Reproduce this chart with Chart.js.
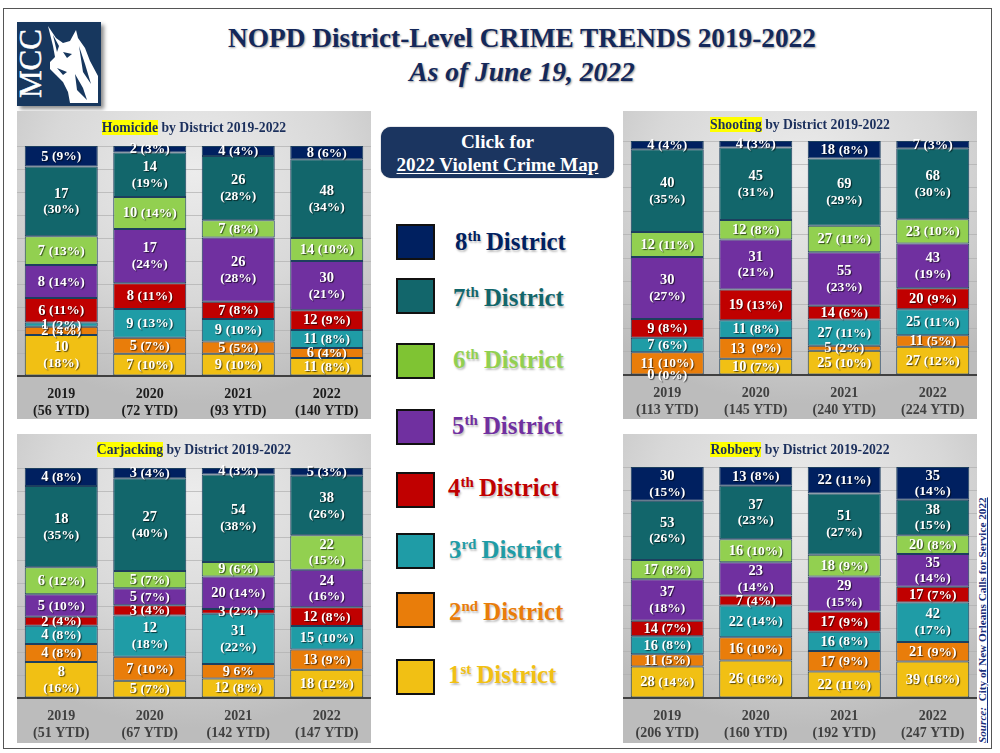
<!DOCTYPE html>
<html>
<head>
<meta charset="utf-8">
<script src="https://cdn.jsdelivr.net/npm/chart.js@4"></script>
<style>
  html, body { margin: 0; padding: 0; background: #fff; }
  body { position: relative; width: 1000px; height: 753px; overflow: hidden; font-family: "Liberation Serif", serif; }
  .abs { position: absolute; }
  #frame { left: 3px; top: 8px; width: 987px; height: 739px; border: 1.5px solid #555; }
  #logo { left: 17px; top: 22px; width: 84px; height: 84px; box-shadow: 3px 3px 4px rgba(0,0,0,.45); }
  #title, #subtitle { left: 0; width: 1044px; text-align: center; font-weight: bold; color: #14285a; white-space: nowrap; text-shadow: 1px 1px 2px rgba(0,0,0,.4); }
  #title { top: 23px; font-size: 27.3px; }
  #subtitle { top: 56px; font-size: 27.5px; font-style: italic; }
  .panel { background: radial-gradient(ellipse 75% 75% at 50% 20%, #ececec 0%, #d8d8d8 55%, #bcbcbc 100%); }
  .panel canvas { position: absolute; left: 0; top: 0; }
  .panel-title { position: absolute; left: 0; right: 0; text-align: center; font-weight: bold; font-size: 13.7px; color: #1b2f5c; white-space: nowrap; line-height: 16px; }
  .panel-title mark { background: #ffff00; color: #1b2f5c; }
  #button { left: 381px; top: 127px; width: 233px; height: 51px; border-radius: 10px; background: #1b3560; color: #fff; text-align: center; font-weight: bold; font-size: 19.2px; line-height: 23px; padding-top: 3px; box-sizing: border-box; box-shadow: 0 0 1px #0c1c38; }
  #button u { text-underline-offset: 2px; }
  .swatch { box-sizing: border-box; width: 39px; height: 36px; left: 396px; border: 2px solid #111; }
  .legend-label { font-weight: bold; font-size: 24.8px; line-height: 28px; white-space: nowrap; text-shadow: 1px 2px 2px rgba(0,0,0,.25); }
  .legend-label sup { font-size: 15px; line-height: 0; margin-right: -1px; }
  #source { left: 982px; top: 743px; transform-origin: 0 0; transform: rotate(-90deg) translateY(-50%); font-size: 11.2px; font-weight: bold; color: #1b2f7c; text-decoration: underline; white-space: pre; }
</style>
</head>
<body>
<div class="abs" id="frame"></div>
<svg class="abs" id="logo" viewBox="0 0 84 84">
  <rect width="84" height="84" fill="#17375e"/>
  <text transform="translate(24,76) rotate(-90)" fill="#fff" stroke="#fff" stroke-width="0.5" font-family="Liberation Serif" font-size="31">MCC</text>
  <path fill="#fff" d="M31 4 L39 16 L46 21 L53 19 L59 8 L61 16 L68 26 L73 39 L81 54 L81 81 L53 81 L51 70 L46 60 L39 53 L33 47 L33 40 L38 35 L36 24 Z"/>
  <path fill="#17375e" d="M36 13 L42 24 L40 30 Z M46 30 L55 32 L50 36 Z M62 24 L68 42 L74 62 L66 50 Z M58 52 L66 66 L70 78 L60 68 Z M40 46 L50 50 L46 53 Z"/>
</svg>
<div class="abs" id="title">NOPD District-Level CRIME TRENDS 2019-2022</div>
<div class="abs" id="subtitle">As of June 19, 2022</div>
<div class="abs" id="button">Click for<br><u>2022 Violent Crime Map</u></div>
<div class="abs" id="source"><i>Source:</i>  City of New Orleans Calls for Service 2022</div>

<script>
const years = ['2019', '2020', '2021', '2022'];
const districts = ['1st', '2nd', '3rd', '4th', '5th', '6th', '7th', '8th'];
const colors = ['#f1c014', '#e97d0a', '#1f9ca6', '#c00000', '#7030a0', '#92d050', '#12666b', '#002060'];
const swatchColors = ['#f1c014', '#e97d0a', '#1f9ca6', '#c00000', '#7030a0', '#7fc433', '#12666b', '#002060'];

// each row is one year, values run from 1st district up to 8th
const homicide = [
    [10, 2, 1, 6, 8, 7, 17, 5],
    [7, 5, 9, 8, 17, 10, 14, 2],
    [9, 5, 9, 7, 26, 7, 26, 4],
    [11, 6, 11, 12, 30, 14, 48, 8]
];
const shooting = [
    [0, 11, 7, 9, 30, 12, 40, 4],
    [10, 13, 11, 19, 31, 12, 45, 4],
    [25, 5, 27, 14, 55, 27, 69, 18],
    [27, 11, 25, 20, 43, 23, 68, 7]
];
const carjacking = [
    [8, 4, 4, 2, 5, 6, 18, 4],
    [5, 7, 12, 3, 5, 5, 27, 3],
    [12, 9, 31, 3, 20, 9, 54, 4],
    [18, 13, 15, 12, 24, 22, 38, 5]
];
const robbery = [
    [28, 11, 16, 14, 37, 17, 53, 30],
    [26, 16, 22, 7, 23, 16, 37, 13],
    [22, 17, 16, 17, 29, 18, 51, 22],
    [39, 21, 42, 17, 35, 20, 38, 35]
];

// the source slide breaks labels by hand, these don't follow the 15% rule
const forceTwoLines = ['Robbery|1|4', 'Robbery|3|4', 'Robbery|3|7'];
const forceOneLine = ['Robbery|1|0', 'Robbery|3|0'];
// typos in the source slide
const percentText = { 'Carjacking|2|1': '6%' };
const numberText = { 'Shooting|1|1': '13 ' };

const panels = [
    { name: 'Homicide', values: homicide, box: [17, 111, 354, 308], plotTop: 35, axis: 265, titleY: 9, tickColor: '#1c1c1c' },
    { name: 'Shooting', values: shooting, box: [623, 111, 354, 308], plotTop: 30, axis: 264, titleY: 6, tickColor: '#404040' },
    { name: 'Carjacking', values: carjacking, box: [17, 434, 354, 309], plotTop: 34, axis: 264, titleY: 8, tickColor: '#404040' },
    { name: 'Robbery', values: robbery, box: [623, 434, 354, 309], plotTop: 33, axis: 264, titleY: 8, tickColor: '#404040' }
];
const legendTops = [659, 592, 533, 472, 409, 343, 278, 224];
const legendLabelTops = [661, 598, 536, 474, 412, 346, 284, 228];
const legendLabelLefts = [448, 449, 449, 448, 452, 453, 453, 455];

const numberFont = 'bold 14.5px "Liberation Serif"';
const percentFont = 'bold 13.5px "Liberation Serif"';

const labelPlugin = {
    id: 'segmentLabels',
    afterDraw(chart, args, opts) {
        const ctx = chart.ctx;
        ctx.save();
        ctx.textBaseline = 'middle';
        ctx.fillStyle = '#fff';
        ctx.shadowColor = 'rgba(0,0,0,0.65)';
        ctx.shadowOffsetX = 1;
        ctx.shadowOffsetY = 1;
        ctx.shadowBlur = 1;
        chart.data.datasets.forEach((ds, d) => {
            chart.getDatasetMeta(d).data.forEach((bar, y) => {
                const count = opts.values[y][d];
                const total = opts.values[y].reduce((a, b) => a + b, 0);
                const pct = Math.round(count / total * 100);
                const key = `${opts.name}|${y}|${d}`;
                const num = numberText[key] || String(count);
                const pctStr = percentText[key] || `(${pct}%)`;
                const two = forceTwoLines.includes(key) || (pct >= 15 && !forceOneLine.includes(key));
                const cy = (bar.y + bar.base) / 2 + 0.5;
                if (two) {
                    ctx.textAlign = 'center';
                    ctx.font = numberFont;
                    ctx.fillText(num, bar.x, cy - 8);
                    ctx.font = percentFont;
                    ctx.fillText(pctStr, bar.x, cy + 8);
                } else {
                    ctx.textAlign = 'left';
                    ctx.font = numberFont;
                    const w1 = ctx.measureText(num + ' ').width;
                    ctx.font = percentFont;
                    const w2 = ctx.measureText(pctStr).width;
                    const x0 = bar.x - (w1 + w2) / 2;
                    ctx.font = numberFont;
                    ctx.fillText(num, x0, cy);
                    ctx.font = percentFont;
                    ctx.fillText(pctStr, x0 + w1, cy);
                }
            });
        });
        ctx.restore();
    }
};

function tickLabels(values) {
    return years.map((yr, i) => [yr, `(${values[i].reduce((a, b) => a + b, 0)} YTD)`]);
}

function createPanel(p) {
    const [left, top, width, height] = p.box;
    const div = document.createElement('div');
    div.className = 'abs panel';
    div.style.cssText = `left:${left}px;top:${top}px;width:${width}px;height:${height}px`;
    div.innerHTML = `<canvas width="${width}" height="${height}"></canvas>` +
        `<div class="panel-title" style="top:${p.titleY}px"><mark>${p.name}</mark> by District 2019-2022</div>`;
    document.body.appendChild(div);

    // stacked to 100% like the original, so each year is share of its own total
    const datasets = districts.map((name, d) => ({
        label: name + ' District',
        data: p.values.map(row => row[d] / row.reduce((a, b) => a + b, 0) * 100),
        backgroundColor: colors[d],
        borderColor: '#1d3f5e',
        borderWidth: 1,
        borderSkipped: false,
        barPercentage: 0.825,
        categoryPercentage: 1
    }));

    new Chart(div.querySelector('canvas'), {
        type: 'bar',
        data: { labels: tickLabels(p.values), datasets: datasets },
        plugins: [labelPlugin],
        options: {
            responsive: false,
            animation: false,
            layout: { padding: { top: p.plotTop, left: 0, right: 0, bottom: 0 } },
            plugins: {
                legend: { display: false },
                title: { display: false },
                tooltip: { enabled: false },
                segmentLabels: { name: p.name, values: p.values }
            },
            scales: {
                x: {
                    stacked: true,
                    grid: { display: false },
                    border: { color: '#404040', width: 2 },
                    ticks: { color: p.tickColor, font: { family: '"Liberation Serif"', weight: 'bold', size: 14 }, padding: 2, maxRotation: 0 },
                    afterFit: scale => { scale.height = height - p.axis; }
                },
                y: {
                    stacked: true,
                    min: 0,
                    max: 100,
                    grid: { color: 'rgba(175,175,175,0.7)', drawTicks: false },
                    border: { display: false },
                    ticks: { display: false, stepSize: 10 },
                    afterFit: scale => { scale.width = 0; }
                }
            }
        }
    });
}

function createLegend() {
    districts.forEach((name, d) => {
        const box = document.createElement('div');
        box.className = 'abs swatch';
        box.style.top = legendTops[d] + 'px';
        box.style.background = swatchColors[d];
        document.body.appendChild(box);
        const label = document.createElement('div');
        label.className = 'abs legend-label';
        label.style.top = legendLabelTops[d] + 'px';
        label.style.left = legendLabelLefts[d] + 'px';
        label.style.color = colors[d];
        label.innerHTML = `${name[0]}<sup>${name.slice(1)}</sup> District`;
        document.body.appendChild(label);
    });
}

panels.forEach(createPanel);
createLegend();
</script>
</body>
</html>
